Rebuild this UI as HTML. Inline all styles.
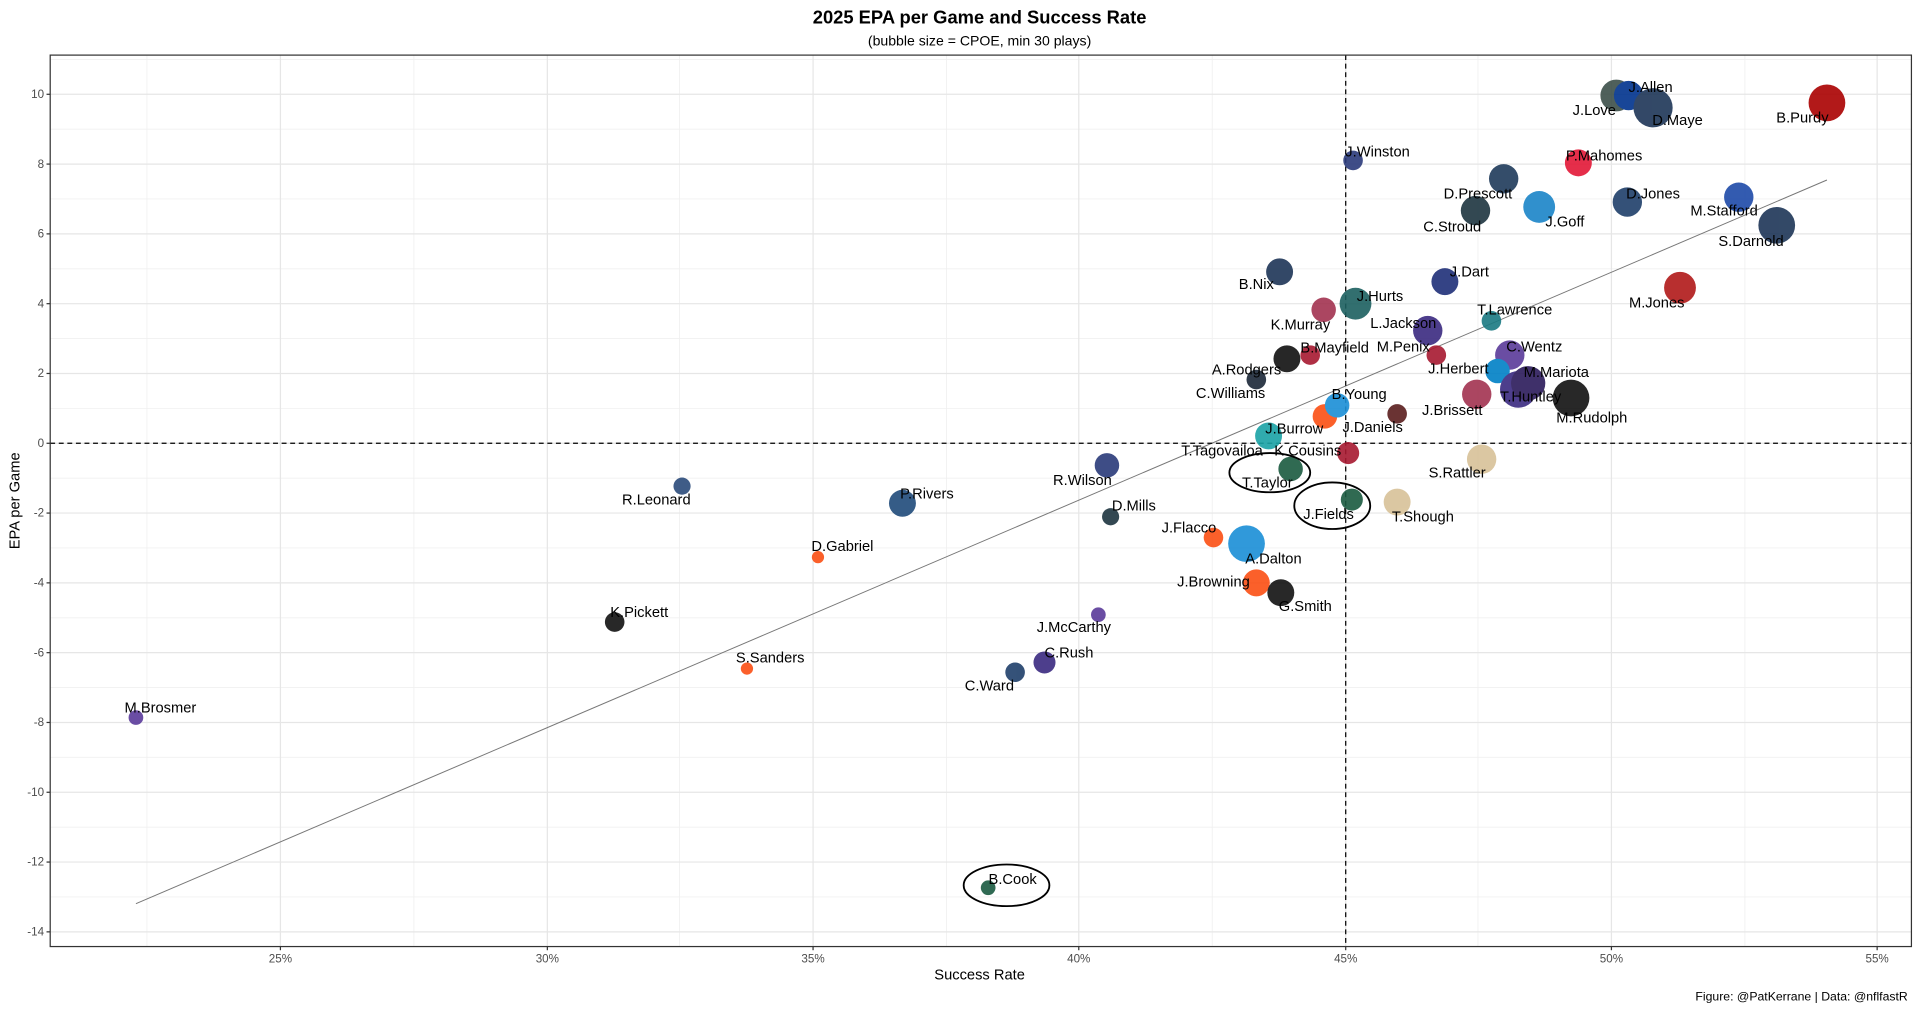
<!DOCTYPE html>
<html><head><meta charset="utf-8"><style>
html,body{margin:0;padding:0;background:#fff;}
svg{display:block;font-family:"Liberation Sans",Arial,sans-serif;}
</style></head><body>
<svg width="1920" height="1009" viewBox="0 0 1568 824" preserveAspectRatio="none" xmlns="http://www.w3.org/2000/svg">
<rect width="1568" height="824" fill="#fff"/>
<g stroke="#f0f0f0" stroke-width="0.7">
<line x1="120" y1="45" x2="120" y2="773"/><line x1="338" y1="45" x2="338" y2="773"/><line x1="555" y1="45" x2="555" y2="773"/><line x1="773" y1="45" x2="773" y2="773"/><line x1="990" y1="45" x2="990" y2="773"/><line x1="1207" y1="45" x2="1207" y2="773"/><line x1="1425" y1="45" x2="1425" y2="773"/>
<line x1="41" y1="48.5" x2="1561" y2="48.5"/><line x1="41" y1="105.5" x2="1561" y2="105.5"/><line x1="41" y1="162.5" x2="1561" y2="162.5"/><line x1="41" y1="219.5" x2="1561" y2="219.5"/><line x1="41" y1="276.5" x2="1561" y2="276.5"/><line x1="41" y1="333.5" x2="1561" y2="333.5"/><line x1="41" y1="390.5" x2="1561" y2="390.5"/><line x1="41" y1="447.5" x2="1561" y2="447.5"/><line x1="41" y1="504.5" x2="1561" y2="504.5"/><line x1="41" y1="561.5" x2="1561" y2="561.5"/><line x1="41" y1="618.5" x2="1561" y2="618.5"/><line x1="41" y1="675.5" x2="1561" y2="675.5"/><line x1="41" y1="732.5" x2="1561" y2="732.5"/>
</g>
<g stroke="#e6e6e6" stroke-width="1">
<line x1="229" y1="45" x2="229" y2="773"/><line x1="447" y1="45" x2="447" y2="773"/><line x1="664" y1="45" x2="664" y2="773"/><line x1="881" y1="45" x2="881" y2="773"/><line x1="1099" y1="45" x2="1099" y2="773"/><line x1="1316" y1="45" x2="1316" y2="773"/><line x1="1533" y1="45" x2="1533" y2="773"/>
<line x1="41" y1="77" x2="1561" y2="77"/><line x1="41" y1="134" x2="1561" y2="134"/><line x1="41" y1="191" x2="1561" y2="191"/><line x1="41" y1="248" x2="1561" y2="248"/><line x1="41" y1="305" x2="1561" y2="305"/><line x1="41" y1="362" x2="1561" y2="362"/><line x1="41" y1="419" x2="1561" y2="419"/><line x1="41" y1="476" x2="1561" y2="476"/><line x1="41" y1="533" x2="1561" y2="533"/><line x1="41" y1="590" x2="1561" y2="590"/><line x1="41" y1="647" x2="1561" y2="647"/><line x1="41" y1="704" x2="1561" y2="704"/><line x1="41" y1="761" x2="1561" y2="761"/>
</g>
<line x1="111" y1="738" x2="1492" y2="147" stroke="#777" stroke-width="0.8"/>
<line x1="1099" y1="45" x2="1099" y2="773" stroke="#000" stroke-dasharray="4,3" stroke-width="1"/>
<line x1="41" y1="362" x2="1561" y2="362" stroke="#000" stroke-dasharray="4,3" stroke-width="1"/>
<g opacity="0.9">
<circle cx="1320" cy="78" r="13" fill="#3d4f4a"/>
<circle cx="1330" cy="78" r="12" fill="#00338d"/>
<circle cx="1350" cy="88" r="16" fill="#1d3557"/>
<circle cx="1492" cy="84" r="15" fill="#aa0000"/>
<circle cx="1105" cy="131" r="8" fill="#2a3a7a"/>
<circle cx="1289" cy="133" r="11" fill="#e31837"/>
<circle cx="1228" cy="146" r="12" fill="#1f3a5a"/>
<circle cx="1205" cy="172" r="12" fill="#1e3540"/>
<circle cx="1257" cy="169" r="13" fill="#1a85c8"/>
<circle cx="1329" cy="165" r="12" fill="#1f3f6a"/>
<circle cx="1420" cy="161" r="12" fill="#1e4aa8"/>
<circle cx="1451" cy="184" r="15" fill="#1d3557"/>
<circle cx="1045" cy="222" r="11" fill="#1d3557"/>
<circle cx="1180" cy="230" r="11" fill="#1f2f78"/>
<circle cx="1372" cy="235" r="13" fill="#b01818"/>
<circle cx="1081" cy="253" r="10" fill="#a23350"/>
<circle cx="1107" cy="248" r="13" fill="#1c6060"/>
<circle cx="1166" cy="270" r="12" fill="#3a2a80"/>
<circle cx="1218" cy="262" r="8" fill="#1a7a82"/>
<circle cx="1173" cy="290" r="8" fill="#a71930"/>
<circle cx="1070" cy="290" r="8" fill="#a71930"/>
<circle cx="1051" cy="293" r="11" fill="#101010"/>
<circle cx="1026" cy="310" r="8" fill="#1b2838"/>
<circle cx="1233" cy="290" r="12" fill="#5a3a9a"/>
<circle cx="1206" cy="322" r="12" fill="#a23350"/>
<circle cx="1223" cy="303" r="10" fill="#0080c6"/>
<circle cx="1240" cy="318" r="15" fill="#3a2a80"/>
<circle cx="1248" cy="313" r="14" fill="#2b1a5a"/>
<circle cx="1283" cy="325" r="15" fill="#111"/>
<circle cx="1082" cy="340" r="10" fill="#fb4f14"/>
<circle cx="1092" cy="331" r="10" fill="#1a8fd6"/>
<circle cx="1141" cy="338" r="8" fill="#5a1e1e"/>
<circle cx="1036" cy="356" r="11" fill="#1aa3a6"/>
<circle cx="1101" cy="370" r="9" fill="#a71930"/>
<circle cx="1054" cy="383" r="10" fill="#1a5a40"/>
<circle cx="1104" cy="408" r="9" fill="#1a5a40"/>
<circle cx="1210" cy="375" r="12" fill="#d8c298"/>
<circle cx="1141" cy="410" r="11" fill="#d8c298"/>
<circle cx="557" cy="397" r="7" fill="#2a4a7a"/>
<circle cx="737" cy="411" r="11" fill="#1f4a7a"/>
<circle cx="904" cy="380" r="10" fill="#2a3a7a"/>
<circle cx="907" cy="422" r="7" fill="#1e3540"/>
<circle cx="668" cy="455" r="5" fill="#fb4f14"/>
<circle cx="991" cy="439" r="8" fill="#fb4f14"/>
<circle cx="1018" cy="444" r="15" fill="#1a8fd6"/>
<circle cx="1026" cy="476" r="11" fill="#fb4f14"/>
<circle cx="1046" cy="484" r="11" fill="#111"/>
<circle cx="897" cy="502" r="6" fill="#5a3a9a"/>
<circle cx="853" cy="541" r="9" fill="#3a2a80"/>
<circle cx="829" cy="549" r="8" fill="#1f3f6a"/>
<circle cx="502" cy="508" r="8" fill="#111"/>
<circle cx="610" cy="546" r="5" fill="#fb4f14"/>
<circle cx="111" cy="586" r="6" fill="#5a3a9a"/>
<circle cx="807" cy="725" r="6" fill="#1a5a40"/>
</g>
<g fill="none" stroke="#000" stroke-width="1.5">
<ellipse cx="1037" cy="386" rx="33" ry="16"/>
<ellipse cx="1088" cy="413" rx="31" ry="19"/>
<ellipse cx="822" cy="723" rx="35" ry="17"/>
</g>
<g font-size="12" fill="#000" text-anchor="middle">
<text x="1302" y="94">J.Love</text><text x="1348" y="75">J.Allen</text><text x="1370" y="102">D.Maye</text><text x="1472" y="100">B.Purdy</text>
<text x="1125" y="128">J.Winston</text><text x="1310" y="131">P.Mahomes</text><text x="1207" y="162">D.Prescott</text><text x="1186" y="189">C.Stroud</text>
<text x="1278" y="185">J.Goff</text><text x="1350" y="162">D.Jones</text><text x="1408" y="176">M.Stafford</text><text x="1430" y="201">S.Darnold</text>
<text x="1026" y="236">B.Nix</text><text x="1200" y="226">J.Dart</text><text x="1353" y="251">M.Jones</text><text x="1127" y="246">J.Hurts</text>
<text x="1062" y="269">K.Murray</text><text x="1146" y="268">L.Jackson</text><text x="1237" y="257">T.Lawrence</text><text x="1146" y="287">M.Penix</text>
<text x="1090" y="288">B.Mayfield</text><text x="1018" y="306">A.Rodgers</text><text x="1005" y="325">C.Williams</text><text x="1253" y="287">C.Wentz</text>
<text x="1191" y="305">J.Herbert</text><text x="1271" y="308">M.Mariota</text><text x="1250" y="328">T.Huntley</text><text x="1186" y="339">J.Brissett</text>
<text x="1300" y="345">M.Rudolph</text><text x="1110" y="326">B.Young</text><text x="1121" y="353">J.Daniels</text><text x="1057" y="354">J.Burrow</text>
<text x="998" y="372">T.Tagovailoa</text><text x="1068" y="372">K.Cousins</text><text x="1035" y="398">T.Taylor</text><text x="1085" y="424">J.Fields</text>
<text x="1190" y="390">S.Rattler</text><text x="1162" y="426">T.Shough</text><text x="536" y="412">R.Leonard</text><text x="757" y="407">P.Rivers</text>
<text x="884" y="396">R.Wilson</text><text x="926" y="417">D.Mills</text><text x="688" y="450">D.Gabriel</text><text x="971" y="435">J.Flacco</text>
<text x="1040" y="460">A.Dalton</text><text x="991" y="479">J.Browning</text><text x="1066" y="499">G.Smith</text><text x="877" y="516">J.McCarthy</text>
<text x="873" y="537">C.Rush</text><text x="808" y="564">C.Ward</text><text x="522" y="504">K.Pickett</text><text x="629" y="541">S.Sanders</text>
<text x="131" y="582">M.Brosmer</text><text x="827" y="722">B.Cook</text>
</g>
<rect x="41" y="45" width="1520" height="728" fill="none" stroke="#333" stroke-width="1"/>
<g font-size="9.5" fill="#4d4d4d" text-anchor="end">
<text x="36" y="80">10</text><text x="36" y="137">8</text><text x="36" y="194">6</text><text x="36" y="251">4</text><text x="36" y="308">2</text><text x="36" y="365">0</text><text x="36" y="422">-2</text><text x="36" y="479">-4</text><text x="36" y="536">-6</text><text x="36" y="593">-8</text><text x="36" y="650">-10</text><text x="36" y="707">-12</text><text x="36" y="764">-14</text>
</g>
<g stroke="#333" stroke-width="1">
<line x1="38" y1="77" x2="41" y2="77"/><line x1="38" y1="134" x2="41" y2="134"/><line x1="38" y1="191" x2="41" y2="191"/><line x1="38" y1="248" x2="41" y2="248"/><line x1="38" y1="305" x2="41" y2="305"/><line x1="38" y1="362" x2="41" y2="362"/><line x1="38" y1="419" x2="41" y2="419"/><line x1="38" y1="476" x2="41" y2="476"/><line x1="38" y1="533" x2="41" y2="533"/><line x1="38" y1="590" x2="41" y2="590"/><line x1="38" y1="647" x2="41" y2="647"/><line x1="38" y1="704" x2="41" y2="704"/><line x1="38" y1="761" x2="41" y2="761"/>
<line x1="229" y1="773" x2="229" y2="776"/><line x1="447" y1="773" x2="447" y2="776"/><line x1="664" y1="773" x2="664" y2="776"/><line x1="881" y1="773" x2="881" y2="776"/><line x1="1099" y1="773" x2="1099" y2="776"/><line x1="1316" y1="773" x2="1316" y2="776"/><line x1="1533" y1="773" x2="1533" y2="776"/>
</g>
<g font-size="9.5" fill="#4d4d4d" text-anchor="middle">
<text x="229" y="786">25%</text><text x="447" y="786">30%</text><text x="664" y="786">35%</text><text x="881" y="786">40%</text><text x="1099" y="786">45%</text><text x="1316" y="786">50%</text><text x="1533" y="786">55%</text>
</g>
<text x="800" y="800" font-size="12" text-anchor="middle">Success Rate</text>
<text transform="translate(16,409) rotate(-90)" font-size="12" text-anchor="middle">EPA per Game</text>
<text x="800" y="19" font-size="15" font-weight="bold" text-anchor="middle">2025 EPA per Game and Success Rate</text>
<text x="800" y="37" font-size="11.5" text-anchor="middle">(bubble size = CPOE, min 30 plays)</text>
<text x="1558" y="817" font-size="10" text-anchor="end">Figure: @PatKerrane | Data: @nflfastR</text>
</svg>
</body></html>
